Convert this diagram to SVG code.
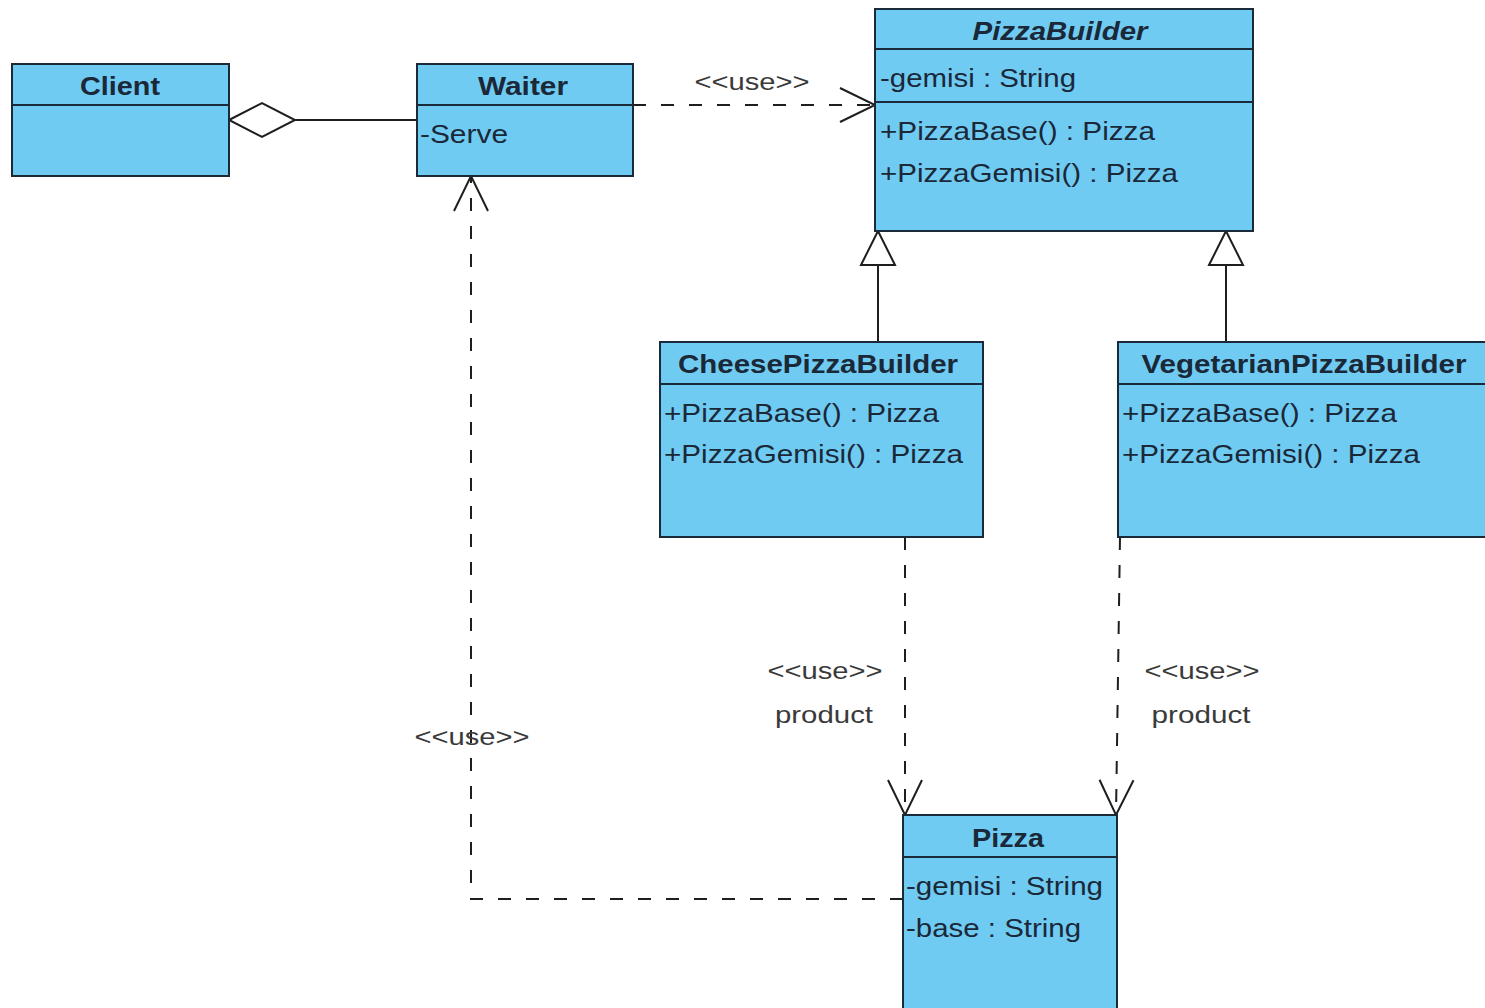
<svg xmlns="http://www.w3.org/2000/svg" width="1485" height="1008" viewBox="0 0 1485 1008">
  <style>
    .box { fill: #70CBF3; stroke: #1b2a38; stroke-width: 2; }
    .div { stroke: #1b2a38; stroke-width: 2; }
    .t { font-family: "Liberation Sans", Arial, sans-serif; font-size: 25px; fill: #1a2838; }
    .title { font-weight: bold; text-anchor: middle; }
    .lbl { font-family: "Liberation Sans", Arial, sans-serif; font-size: 23px; fill: #3a3a3a; text-anchor: middle; }
    .solid { fill: none; stroke: #1e1e1e; stroke-width: 2; }
    .dash { fill: none; stroke: #1e1e1e; stroke-width: 2; stroke-dasharray: 13 15; }
  </style>
  <defs>
    <marker id="open" markerUnits="userSpaceOnUse" markerWidth="40" markerHeight="40" refX="35" refY="17" orient="auto" overflow="visible">
      <path d="M0,0 L35,17 L0,34" fill="none" stroke="#1e1e1e" stroke-width="2"/>
    </marker>
    <marker id="gen" markerUnits="userSpaceOnUse" markerWidth="40" markerHeight="40" refX="34" refY="17" orient="auto" overflow="visible">
      <path d="M0,0 L34,17 L0,34 Z" fill="#ffffff" stroke="#1e1e1e" stroke-width="2"/>
    </marker>
    <marker id="agg" markerUnits="userSpaceOnUse" markerWidth="70" markerHeight="40" refX="0" refY="17" orient="auto" overflow="visible">
      <path d="M0,17 L33,0 L66,17 L33,34 Z" fill="#ffffff" stroke="#1e1e1e" stroke-width="2"/>
    </marker>
  </defs>

  <rect width="1485" height="1008" fill="#ffffff"/>

  <!-- connectors -->
  <g id="connectors">
    <line class="solid" x1="229" y1="120" x2="417" y2="120" marker-start="url(#agg)"/>
    <line class="dash" x1="633" y1="105" x2="875" y2="105" marker-end="url(#open)"/>
    <line class="solid" x1="878" y1="342" x2="878" y2="231" marker-end="url(#gen)"/>
    <line class="solid" x1="1226" y1="342" x2="1226" y2="231" marker-end="url(#gen)"/>
    <line class="dash" x1="905" y1="537" x2="905" y2="815" marker-end="url(#open)"/>
    <line class="dash" x1="1120" y1="537" x2="1116" y2="815" marker-end="url(#open)"/>
    <polyline class="dash" points="903,899 471,899 471,176" marker-end="url(#open)"/>
    <text class="lbl" x="752" y="90" textLength="115" lengthAdjust="spacingAndGlyphs">&lt;&lt;use&gt;&gt;</text>
    <text class="lbl" x="825" y="679" textLength="115" lengthAdjust="spacingAndGlyphs">&lt;&lt;use&gt;&gt;</text>
    <text class="lbl" x="824" y="723" textLength="98" lengthAdjust="spacingAndGlyphs">product</text>
    <text class="lbl" x="1202" y="679" textLength="115" lengthAdjust="spacingAndGlyphs">&lt;&lt;use&gt;&gt;</text>
    <text class="lbl" x="1201" y="723" textLength="99" lengthAdjust="spacingAndGlyphs">product</text>
    <text class="lbl" x="472" y="745" textLength="115" lengthAdjust="spacingAndGlyphs">&lt;&lt;use&gt;&gt;</text>
  </g>

  <!-- Client -->
  <g id="client">
    <rect class="box" x="12" y="64" width="217" height="112"/>
    <line class="div" x1="12" y1="105" x2="229" y2="105"/>
    <text class="t title" x="120" y="95" textLength="80" lengthAdjust="spacingAndGlyphs">Client</text>
  </g>

  <!-- Waiter -->
  <g id="waiter">
    <rect class="box" x="417" y="64" width="216" height="112"/>
    <line class="div" x1="417" y1="105" x2="633" y2="105"/>
    <text class="t title" x="523" y="95" textLength="90" lengthAdjust="spacingAndGlyphs">Waiter</text>
    <text class="t" x="420" y="143" textLength="88" lengthAdjust="spacingAndGlyphs">-Serve</text>
  </g>

  <!-- PizzaBuilder (abstract) -->
  <g id="pizza-builder">
    <rect class="box" x="875" y="9" width="378" height="222"/>
    <line class="div" x1="875" y1="49" x2="1253" y2="49"/>
    <line class="div" x1="875" y1="102" x2="1253" y2="102"/>
    <text class="t title" x="1060" y="40" font-style="italic" textLength="175" lengthAdjust="spacingAndGlyphs">PizzaBuilder</text>
    <text class="t" x="880" y="87" textLength="196" lengthAdjust="spacingAndGlyphs">-gemisi : String</text>
    <text class="t" x="880" y="140" textLength="275" lengthAdjust="spacingAndGlyphs">+PizzaBase() : Pizza</text>
    <text class="t" x="880" y="182" textLength="298" lengthAdjust="spacingAndGlyphs">+PizzaGemisi() : Pizza</text>
  </g>

  <!-- CheesePizzaBuilder -->
  <g id="cheese-pizza-builder">
    <rect class="box" x="660" y="342" width="323" height="195"/>
    <line class="div" x1="660" y1="384" x2="983" y2="384"/>
    <text class="t title" x="818" y="373" textLength="280" lengthAdjust="spacingAndGlyphs">CheesePizzaBuilder</text>
    <text class="t" x="664" y="422" textLength="275" lengthAdjust="spacingAndGlyphs">+PizzaBase() : Pizza</text>
    <text class="t" x="664" y="463" textLength="299" lengthAdjust="spacingAndGlyphs">+PizzaGemisi() : Pizza</text>
  </g>

  <!-- VegetarianPizzaBuilder -->
  <g id="vegetarian-pizza-builder">
    <rect class="box" x="1118" y="342" width="380" height="195"/>
    <line class="div" x1="1118" y1="384" x2="1498" y2="384"/>
    <text class="t title" x="1304" y="373" textLength="325" lengthAdjust="spacingAndGlyphs">VegetarianPizzaBuilder</text>
    <text class="t" x="1122" y="422" textLength="275" lengthAdjust="spacingAndGlyphs">+PizzaBase() : Pizza</text>
    <text class="t" x="1122" y="463" textLength="298" lengthAdjust="spacingAndGlyphs">+PizzaGemisi() : Pizza</text>
  </g>

  <!-- Pizza -->
  <g id="pizza">
    <rect class="box" x="903" y="815" width="214" height="210"/>
    <line class="div" x1="903" y1="857" x2="1117" y2="857"/>
    <text class="t title" x="1008" y="847" textLength="72" lengthAdjust="spacingAndGlyphs">Pizza</text>
    <text class="t" x="906" y="895" textLength="197" lengthAdjust="spacingAndGlyphs">-gemisi : String</text>
    <text class="t" x="906" y="937" textLength="175" lengthAdjust="spacingAndGlyphs">-base : String</text>
  </g>
</svg>
